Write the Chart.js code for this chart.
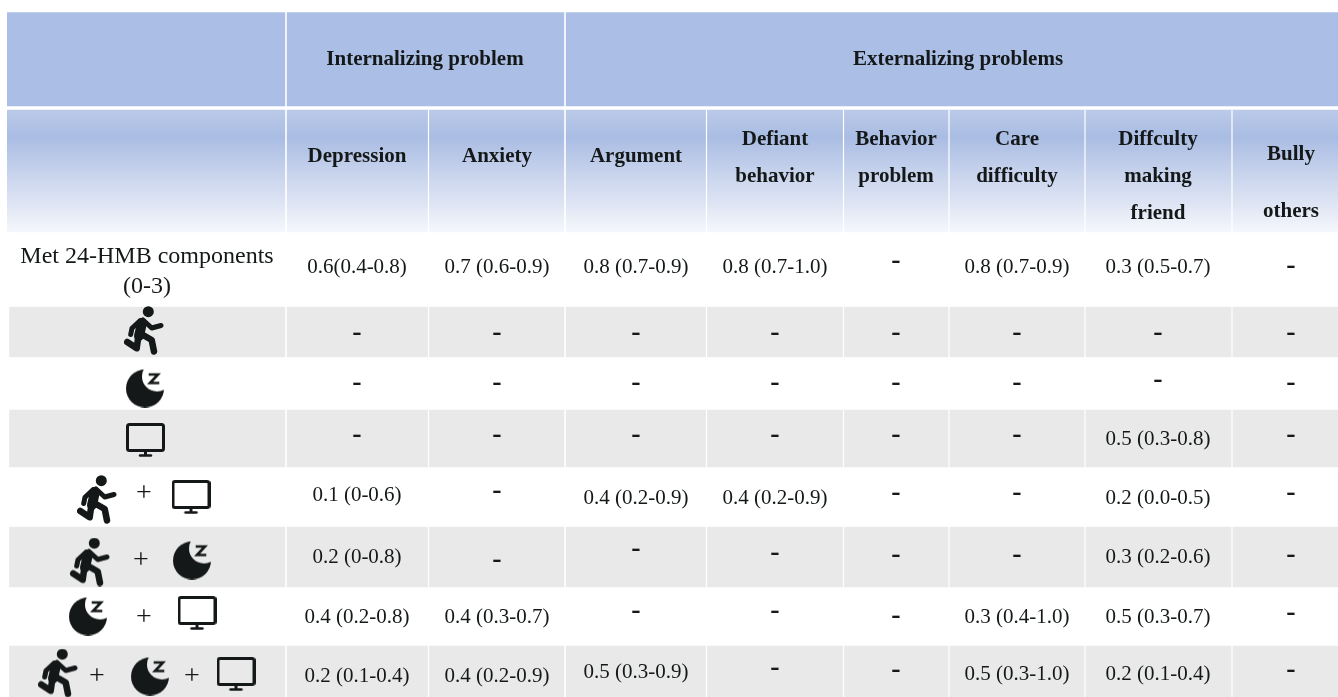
<!DOCTYPE html>
<html>
<head>
<meta charset="utf-8">
<title>24-HMB components table</title>
<script src="https://cdn.jsdelivr.net/npm/chart.js@4"></script>
<style>
  html, body { margin: 0; padding: 0; background: #fff; }
  canvas { display: block; }
</style>
</head>
<body>
<canvas id="myChart" width="1338" height="697"></canvas>
<script>
// table content, one list per outcome
const groupNames = ['Internalizing problem', 'Externalizing problems'];
const columnNames = [
    ['Depression'], ['Anxiety'], ['Argument'], ['Defiant', 'behavior'], ['Behavior', 'problem'],
    ['Care', 'difficulty'], ['Diffculty', 'making', 'friend'], ['Bully', 'others']
];
const rowIcons = [
    [], ['run'], ['moon'], ['screen'], ['run', '+', 'screen'], ['run', '+', 'moon'],
    ['moon', '+', 'screen'], ['run', '+', 'moon', '+', 'screen']
];
const depression = ['0.6(0.4-0.8)', '-', '-', '-', '0.1 (0-0.6)', '0.2 (0-0.8)', '0.4 (0.2-0.8)', '0.2 (0.1-0.4)'];
const anxiety = ['0.7 (0.6-0.9)', '-', '-', '-', '-', '-', '0.4 (0.3-0.7)', '0.4 (0.2-0.9)'];
const argument = ['0.8 (0.7-0.9)', '-', '-', '-', '0.4 (0.2-0.9)', '-', '-', '0.5 (0.3-0.9)'];
const defiant = ['0.8 (0.7-1.0)', '-', '-', '-', '0.4 (0.2-0.9)', '-', '-', '-'];
const behaviorProblem = ['-', '-', '-', '-', '-', '-', '-', '-'];
const careDifficulty = ['0.8 (0.7-0.9)', '-', '-', '-', '-', '-', '0.3 (0.4-1.0)', '0.5 (0.3-1.0)'];
const makingFriend = ['0.3 (0.5-0.7)', '-', '-', '0.5 (0.3-0.8)', '0.2 (0.0-0.5)', '0.3 (0.2-0.6)', '0.5 (0.3-0.7)', '0.2 (0.1-0.4)'];
const bullyOthers = ['-', '-', '-', '-', '-', '-', '-', '-'];
const seriesValues = [depression, anxiety, argument, defiant, behaviorProblem, careDifficulty, makingFriend, bullyOthers];

// layout on the page grid
const GRID_W = 1338, GRID_H = 697, LEFT = 7;
const FONT = '"Liberation Serif", serif';
const INK = '#141818';
const columnMiddles = [357, 497, 636, 775, 896, 1017, 1158, 1291];
const fullRules = [286, 565];
const columnRules = [428.5, 706.5, 843.5, 949, 1085, 1232];
const groupSpots = [[425, 60], [958, 60]];
const headerLineY = [[157], [157], [157], [140, 177], [140, 177], [140, 177], [140, 177, 214], [155, 212]];
const whiteRows = [[232, 307], [357, 410], [467, 527], [587, 646]];
const greyRows = [[307, 357], [410, 467], [527, 587], [646, 697]];
const cellY = [
    [266, 266, 266, 266, 261, 266, 266, 266],
    [333, 333, 333, 333, 333, 333, 333, 333],
    [383, 383, 383, 383, 383, 383, 380, 383],
    [435, 435, 435, 435, 435, 435, 438, 435],
    [494, 491, 497, 497, 493, 493, 497, 493],
    [556, 560, 549, 553, 555, 555, 556, 555],
    [616, 616, 611, 611, 616, 616, 616, 613],
    [675, 675, 671, 668, 670, 673, 673, 670]
];
const iconSpots = [
    [],
    [[144, 330.5]],
    [[145, 388]],
    [[145.5, 440]],
    [[97, 499.5], [144, 494], [191, 497]],
    [[90, 562], [141, 561], [192, 560]],
    [[88, 616], [144, 618], [197, 613]],
    [[58, 673], [97, 677], [150, 676], [192, 677], [236, 674]]
];

function iconCanvas(w, h, paint) {
    const c = document.createElement('canvas');
    c.width = w;
    c.height = h;
    const g = c.getContext('2d');
    g.strokeStyle = INK;
    g.fillStyle = INK;
    g.lineCap = 'round';
    g.lineJoin = 'round';
    paint(g);
    return c;
}

function polyline(g, width, pts) {
    g.lineWidth = width;
    g.beginPath();
    pts.forEach((p, i) => i ? g.lineTo(p[0], p[1]) : g.moveTo(p[0], p[1]));
    g.stroke();
}

const icons = {
    run: iconCanvas(40, 49, g => {
        g.beginPath();
        g.arc(24.3, 5.7, 5.5, 0, Math.PI * 2);
        g.fill();
        polyline(g, 10, [[18, 17], [15, 30]]);
        polyline(g, 5, [[19, 14], [27.7, 22], [37, 19.5]]);
        polyline(g, 5, [[16, 14.7], [8, 22.3], [6.7, 28.5]]);
        polyline(g, 6.5, [[14.3, 30.7], [12.7, 42.3], [3.2, 36]]);
        polyline(g, 6.5, [[16, 27.3], [27.7, 34], [30, 45.5]]);
    }),
    moon: iconCanvas(38, 39, g => {
        g.beginPath();
        g.arc(19, 20, 19, 0, Math.PI * 2);
        g.fill();
        g.globalCompositeOperation = 'destination-out';
        g.beginPath();
        g.arc(31, 8, 15, 0, Math.PI * 2);
        g.fill();
        g.globalCompositeOperation = 'source-over';
        g.lineCap = 'square';
        g.lineJoin = 'miter';
        polyline(g, 2.6, [[24, 6], [32, 6], [24, 14.5], [32, 14.5]]);
    }),
    screen: iconCanvas(39, 34, g => {
        g.lineWidth = 3;
        g.beginPath();
        g.roundRect(1.5, 1.5, 36, 26, 2);
        g.stroke();
        polyline(g, 3, [[19.5, 28], [19.5, 31.5]]);
        polyline(g, 2.4, [[14, 32.5], [25, 32.5]]);
    })
};

// text marks: scatter points, the plugin writes each point's text where the scales put it
const groupPoints = groupNames.map((t, i) => ({ x: groupSpots[i][0], y: groupSpots[i][1], text: t }));
const headerPoints = columnNames.flatMap((lines, c) =>
    lines.map((t, l) => ({ x: columnMiddles[c], y: headerLineY[c][l], text: t })));
const valuePoints = [], dashPoints = [];
seriesValues.forEach((values, c) => values.forEach((v, r) => {
    if (v === '-') dashPoints.push({ x: columnMiddles[c], y: cellY[r][c], text: v });
    else valuePoints.push({ x: columnMiddles[c], y: cellY[r][c] + 1.5, text: v });
}));
const rowLabelPoints = [
    { x: 147, y: 257, text: 'Met 24-HMB components' },
    { x: 147, y: 287, text: '(0-3)' }
];
const plusPoints = [], iconPoints = [], iconStyles = [];
rowIcons.forEach((items, r) => items.forEach((name, i) => {
    const [x, y] = iconSpots[r][i];
    if (name === '+') {
        plusPoints.push({ x, y, text: '+' });
    } else {
        iconPoints.push({ x, y });
        iconStyles.push(icons[name]);
    }
}));

function band(range, color) {
    return { type: 'bar', xAxisID: 'band', yAxisID: 'y', data: [range], backgroundColor: color, order: 4 };
}

function textSet(points, font) {
    return { type: 'scatter', xAxisID: 'x', yAxisID: 'y', data: points, pointRadius: 0, textFont: font, order: 1 };
}

function rule(x, top, width) {
    return {
        type: 'line', xAxisID: 'x', yAxisID: 'y', data: [{ x, y: top }, { x, y: GRID_H }],
        borderColor: '#ffffff', borderWidth: width, pointRadius: 0, order: 2
    };
}

function headerFade(ctx) {
    const chart = ctx.chart;
    const top = chart.scales.y.getPixelForValue(110);
    const bottom = chart.scales.y.getPixelForValue(232);
    if (!Number.isFinite(top) || !Number.isFinite(bottom)) return '#c5d1ec';
    const g = chart.ctx.createLinearGradient(0, top, 0, bottom);
    g.addColorStop(0, '#bbcae8');
    g.addColorStop(0.22, '#a9bce3');
    g.addColorStop(0.5, '#c6d2ec');
    g.addColorStop(0.75, '#dce3f3');
    g.addColorStop(1, '#f6f7fc');
    return g;
}

const cellText = {
    id: 'cellText',
    afterDatasetsDraw(chart) {
        const c = chart.ctx;
        c.save();
        c.textAlign = 'center';
        c.textBaseline = 'middle';
        c.fillStyle = INK;
        chart.data.datasets.forEach((ds, i) => {
            if (!ds.textFont) return;
            c.font = ds.textFont;
            chart.getDatasetMeta(i).data.forEach((pt, k) => c.fillText(ds.data[k].text, pt.x, pt.y));
        });
        c.restore();
    }
};

const ctx = document.getElementById('myChart');

const myChart = new Chart(ctx, {
    type: 'bar',
    data: {
        labels: ['table'],
        datasets: [
            band([12.5, 106], '#abbfe6'),
            band([110, 232], headerFade),
            ...greyRows.map(r => band(r, '#e9e9e9')),
            ...whiteRows.map(r => band(r, '#ffffff')),
            ...fullRules.map(x => rule(x, 12, 1.6)),
            ...columnRules.map(x => rule(x, 110, 1.2)),
            rule(8, 232, 2.4),
            textSet(groupPoints, 'bold 21px ' + FONT),
            textSet(headerPoints, 'bold 21px ' + FONT),
            textSet(valuePoints, '21px ' + FONT),
            textSet(dashPoints, 'bold 28px ' + FONT),
            textSet(rowLabelPoints, '24px ' + FONT),
            textSet(plusPoints, '28px ' + FONT),
            {
                type: 'scatter', xAxisID: 'x', yAxisID: 'y', data: iconPoints,
                pointStyle: iconStyles, pointRadius: 10, order: 1
            }
        ]
    },
    options: {
        responsive: false,
        animation: false,
        events: [],
        layout: { autoPadding: false, padding: { left: LEFT, right: 0, top: 0, bottom: 0 } },
        datasets: { bar: { grouped: false, categoryPercentage: 1, barPercentage: 1, borderWidth: 0, borderSkipped: false } },
        plugins: { legend: { display: false }, tooltip: { enabled: false } },
        scales: {
            x: { type: 'linear', min: LEFT, max: GRID_W, offset: false, display: false },
            band: { type: 'category', labels: ['table'], offset: true, display: false },
            y: { type: 'linear', min: 0, max: GRID_H, reverse: true, display: false }
        }
    },
    plugins: [cellText]
});
</script>
</body>
</html>
